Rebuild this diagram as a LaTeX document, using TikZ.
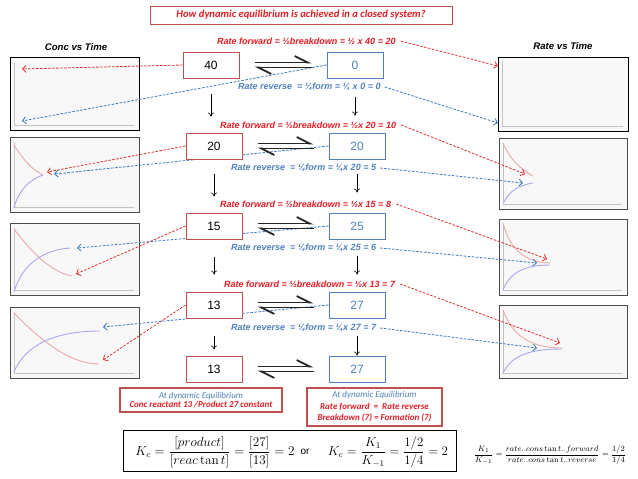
\documentclass[tikz,border=0pt]{standalone}
\usepackage{amsmath}
\usepackage{graphicx}
\usepackage[no-math]{fontspec}
\newfontfamily\arialf{Liberation Sans}
\newfontfamily\calf{Carlito}
\usetikzlibrary{arrows.meta,backgrounds,calc}
\definecolor{boxred}{HTML}{C0504D}
\definecolor{boxblue}{HTML}{4F81BD}
\definecolor{txtred}{RGB}{226,30,36}
\definecolor{txtblue}{RGB}{79,129,189}
\definecolor{dashred}{RGB}{222,45,45}
\definecolor{dashblue}{RGB}{55,120,190}
\definecolor{cred}{RGB}{236,168,168}
\definecolor{cblue}{RGB}{168,168,236}
\definecolor{axgrey}{RGB}{195,195,195}
\definecolor{gbg}{RGB}{248,248,248}
\begin{document}
\begin{tikzpicture}[x=1pt,y=-1pt,
  redbox/.style={draw=boxred, line width=1pt, fill=white, minimum width=56pt, minimum height=26pt, inner sep=0pt, font=\arialf\fontsize{12}{14}\selectfont, text=black},
  bluebox/.style={redbox, draw=boxblue, text=boxblue},
  fwd/.style={font=\arialf\bfseries\itshape\fontsize{9}{10}\selectfont, text=txtred, inner sep=0pt, anchor=west},
  rev/.style={fwd, text=txtblue},
  head/.style={font=\arialf\bfseries\itshape\fontsize{9.6}{11}\selectfont, inner sep=0pt},
  gframe/.style={line width=1pt, fill=gbg, inner sep=0pt},
  gaxis/.style={draw=axgrey, line width=1pt},
  redc/.style={draw=cred, line width=0.9pt},
  bluec/.style={draw=cblue, line width=0.9pt},
  rd/.style={draw=dashred, line width=0.8pt, dash pattern=on 2.5pt off 1.5pt, -{Straight Barb[length=3.5pt,width=7pt]}},
  bd/.style={rd, draw=dashblue},
  down/.style={draw=black, line width=0.6pt, -{To[length=4pt,width=6pt]}},
  harp/.style={draw=black!85, line width=1.8pt, shorten <=15pt, shorten >=15pt, -{Straight Barb[left,length=13pt,width=13pt]}},
  infobox/.style={draw=boxred, line width=1.2pt, inner sep=0pt, align=center}
]
\useasboundingbox (0,0) rectangle (638,479);
\begin{scope}[on background layer]
\fill[white] (0,0) rectangle (638,479);
\foreach \n/\l/\t/\r/\b/\c in {L1/10/57/139/130/black, L2/10/137/139/212/black!70, L3/10/223/139/295/black!70, L4/10/307/139/378/black!70, R1/498/57/628/131/black, R2/499/138/627/209/black!70, R3/499/219/627/295/black!70, R4/499/305/627/378/black!70}{
  \node[gframe, draw=\c, minimum width={(\r-\l)*1pt}, minimum height={(\b-\t)*1pt}] (\n) at ({(\l+\r)/2},{(\t+\b)/2}) {};
  \draw[gaxis] ({\l+4.5},{\t+5}) -- ({\l+4.5},{\b-5}) -- ({\r-5},{\b-5});
}
% left curves
\draw[redc] (14,145) .. controls (22,158) and (32,170) .. (43,175);
\draw[bluec] (14,208) .. controls (18,192) and (28,180) .. (43,175);
\draw[redc] (14,229) .. controls (30,250) and (50,272) .. (72,276);
\draw[bluec] (14,292) .. controls (22,265) and (42,250) .. (70,248);
\draw[redc] (14,313) .. controls (40,340) and (70,364) .. (99,364);
\draw[bluec] (14,372) .. controls (25,345) and (55,331) .. (100,331);
% right curves
\draw[redc] (503,143) .. controls (510,160) and (522,170) .. (533,176);
\draw[bluec] (504,202) .. controls (510,190) and (520,185) .. (533,183);
\draw[redc] (503,223) .. controls (510,250) and (525,262) .. (550,263);
\draw[bluec] (503,290) .. controls (510,272) and (525,265) .. (550,265);
\draw[redc] (503,310) .. controls (512,335) and (530,348) .. (562,348);
\draw[bluec] (503,373) .. controls (512,355) and (530,349) .. (562,349);
\end{scope}

% title and headings
\node[draw=boxred, line width=1pt, minimum width=302pt, minimum height=18pt, inner sep=0pt, font=\calf\bfseries\itshape\fontsize{10.6}{12}\selectfont, text=txtred] (title) at (301,15) {How dynamic equilibrium is achieved in a closed system?};
\node[head] (hc) at (76,47) {Conc vs Time};
\node[head] (hr) at (563,46) {Rate vs Time};

% boxes
\node[redbox] (a1) at (211,65) {40};
\node[bluebox] (b1) at (355,65) {0};
\node[redbox] (a2) at (214,146) {20};
\node[bluebox] (b2) at (357,146) {20};
\node[redbox] (a3) at (214,226) {15};
\node[bluebox] (b3) at (357,226) {25};
\node[redbox] (a4) at (214,305) {13};
\node[bluebox] (b4) at (357,305) {27};
\node[redbox] (a5) at (214,369) {13};
\node[bluebox] (b5) at (357,369) {27};

% harpoons
\foreach \i in {1,...,5}{
  \draw[harp] ([yshift=2.5pt]a\i.east) -- ([yshift=2.5pt]b\i.west);
  \draw[harp] ([yshift=-2.5pt]b\i.west) -- ([yshift=-2.5pt]a\i.east);
}

% rate labels
\node[fwd] (f1) at (217,41) {Rate forward = ½breakdown = ½ x 40 = 20};
\node[fwd] (f2) at (220,125) {Rate forward = ½breakdown = ½x 20 = 10};
\node[fwd] (f3) at (220,204) {Rate forward = ½breakdown = ½x 15 = 8};
\node[fwd] (f4) at (224,284) {Rate forward = ½breakdown = ½x 13 = 7};
\node[rev] (r1) at (238,87) {Rate reverse\ \ = ¼form = ¼ x 0 = 0};
\node[rev] (r2) at (231,168) {Rate reverse\ \ = ¼form = ¼x 20 = 5};
\node[rev] (r3) at (231,248) {Rate reverse\ \ = ¼form = ¼x 25 = 6};
\node[rev] (r4) at (231,328) {Rate reverse\ \ = ¼form = ¼x 27 = 7};

% down arrows
\draw[down, shorten <=15pt, shorten >=16pt] (a1.south) -- (a1.south |- a2.north);
\draw[down, shorten <=18pt, shorten >=17pt] (b1.south) -- (b1.south |- b2.north);
\draw[down, shorten <=14pt, shorten >=16pt] (a2.south) -- (a2.south |- a3.north);
\draw[down, shorten <=14pt, shorten >=20pt] (b2.south) -- (b2.south |- b3.north);
\draw[down, shorten <=17pt, shorten >=17pt] (a3.south) -- (a3.south |- a4.north);
\draw[down, shorten <=16pt, shorten >=17pt] (b3.south) -- (b3.south |- b4.north);
\draw[down, shorten <=17pt, shorten >=6pt] (a4.south) -- (a4.south |- a5.north);
\draw[down, shorten <=17pt, shorten >=0pt] (b4.south) -- (b4.south |- b5.north);

% targets
\coordinate (tL1r) at (22,69);  \coordinate (tL1b) at (22,121);
\coordinate (tL2r) at (47,172); \coordinate (tL2b) at (54,174);
\coordinate (tL3r) at (76,274); \coordinate (tL3b) at (77,248);
\coordinate (tL4r) at (103,360); \coordinate (tL4b) at (103,327);
\coordinate (tR1r) at (498,66); \coordinate (tR1b) at (498,123);
\coordinate (tR2r) at (525,174); \coordinate (tR2b) at (523,183);
\coordinate (tR3r) at (547,259); \coordinate (tR3b) at (537,263);
\coordinate (tR4r) at (560,343); \coordinate (tR4b) at (537,348);

\begin{scope}[on background layer]
\foreach \i in {1,...,4}{
  \draw[rd] (a\i.west) -- (tL\i r);
  \draw[bd] (b\i.west) -- (tL\i b);
  \draw[rd] ([xshift=5pt]f\i.east) -- (tR\i r);
  \draw[bd] ([xshift=4pt]r\i.east) -- (tR\i b);
}
\end{scope}

% info boxes
\node[infobox, minimum width=162pt, minimum height=24pt, font=\calf\itshape\fontsize{9}{9.5}\selectfont] (eqL) at (201,400) {\textcolor{txtblue}{At dynamic Equilibrium}\\\textcolor{txtred}{\bfseries Conc reactant 13 /Product 27 constant}};
\node[infobox, minimum width=135pt, minimum height=38pt, font=\calf\itshape\fontsize{9}{11.5}\selectfont] (eqR) at (374.5,407) {\textcolor{txtblue}{At dynamic Equilibrium}\\\textcolor{txtred}{\bfseries Rate forward\ \ =\ \ Rate reverse}\\\textcolor{txtred}{\bfseries Breakdown (7) = Formation (7)}};

% formulas
\node[draw, line width=0.8pt, minimum width=333pt, minimum height=41pt] (kbox) at (289.5,450.5) {};
\node[font=\fontsize{12}{14}\selectfont, inner sep=0pt] (kc1) at (215,452) {\scalebox{1.1}{$K_c=\dfrac{[product]}{[reac\tan t]}=\dfrac{[27]}{[13]}=2$}};
\node[font=\arialf\fontsize{10}{12}\selectfont, inner sep=0pt] (or) at (305,452) {or};
\node[font=\fontsize{12}{14}\selectfont, inner sep=0pt] (kc2) at (388,452) {\scalebox{1.08}{$K_c=\dfrac{K_1}{K_{-1}}=\dfrac{1/2}{1/4}=2$}};
\node[font=\fontsize{8}{10}\selectfont, inner sep=0pt] (kr) at (550,455) {$\dfrac{K_1}{K_{-1}}=\dfrac{rate..cons\tan t..forward}{rate..cons\tan t..reverse}=\dfrac{1/2}{1/4}$};
\end{tikzpicture}
\end{document}
